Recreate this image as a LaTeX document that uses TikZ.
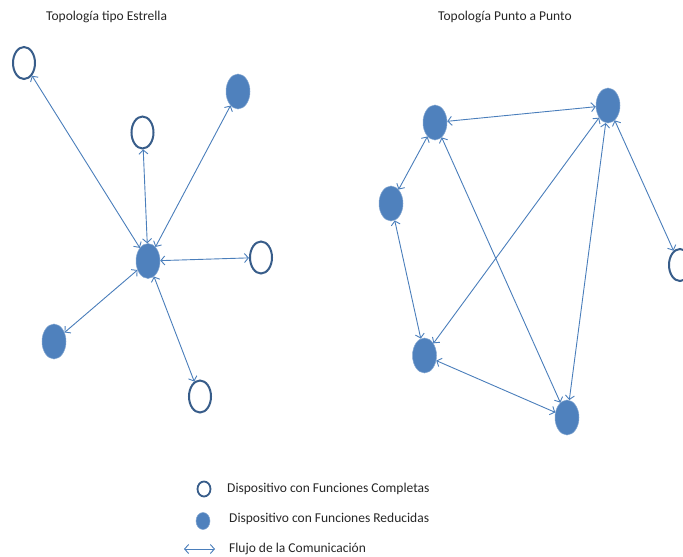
\documentclass[tikz,border=0pt]{standalone}
\usepackage{fontspec}
\setmainfont{Carlito}
\usetikzlibrary{shapes.geometric,arrows.meta}
\definecolor{fillblue}{RGB}{79,129,189}
\definecolor{lineblue}{RGB}{56,93,138}
\definecolor{flowblue}{RGB}{74,126,187}
\begin{document}
\begin{tikzpicture}[x=1pt,y=-1pt,
  full/.style={ellipse,draw=lineblue,line width=2pt,fill=white,minimum width=22pt,minimum height=32pt,inner sep=0pt},
  reduced/.style={ellipse,fill=fillblue,draw=fillblue!70!white,line width=.5pt,minimum width=24pt,minimum height=35pt,inner sep=0pt},
  flow/.style={flowblue,line width=.9pt,{Straight Barb[length=4pt,width=9pt]}-{Straight Barb[length=4pt,width=9pt]}},
  txt/.style={font=\fontsize{13.5}{16}\selectfont,text=black!85,inner sep=0pt}]
\clip (0,0) rectangle (683,557);

% Topologia tipo estrella
\node [txt,anchor=west] (titstar) at (46,17) {Topología tipo Estrella};
\node [reduced] (hub) at (148,261) {};
\node [full] (sa) at (24,63) {};
\node [full] (sb) at (142.5,132.5) {};
\node [reduced] (sc) at (238,91.5) {};
\node [full] (sd) at (261,257.5) {};
\node [reduced] (se) at (54,341.5) {};
\node [full] (sf) at (200,396.5) {};
\foreach \n in {sa,sb,sc,sd,se,sf}
  \draw [flow] (hub) -- (\n);

% Topologia punto a punto
\node [txt,anchor=west] (titpp) at (438,17) {Topología Punto a Punto};
\node [reduced] (p1) at (435,122.5) {};
\node [reduced] (p2) at (608,105.5) {};
\node [reduced] (p3) at (391,203.5) {};
\node [reduced] (p4) at (424.5,355.5) {};
\node [reduced] (p5) at (567,417.5) {};
\node [full] (p6) at (680,265) {};
\foreach \a/\b in {p1/p2,p1/p3,p1/p5,p3/p4,p2/p4,p2/p5,p2/p6,p4/p5}
  \draw [flow] (\a) -- (\b);

% leyenda
\node [full,minimum width=13pt,minimum height=15pt,line width=1.8pt] (lfull) at (204,489) {};
\node [reduced,minimum width=14pt,minimum height=17pt] (lred) at (203,521) {};
\coordinate (la) at (184,549);
\coordinate (lb) at (215,549);
\draw [flow] (la) -- (lb);
\node [txt,anchor=west] (tfull) at (227,489) {Dispositivo con Funciones Completas};
\node [txt,anchor=west] (tred) at (229,519) {Dispositivo con Funciones Reducidas};
\node [txt,anchor=west] (tflow) at (229,549) {Flujo de la Comunicación};
\end{tikzpicture}
\end{document}
